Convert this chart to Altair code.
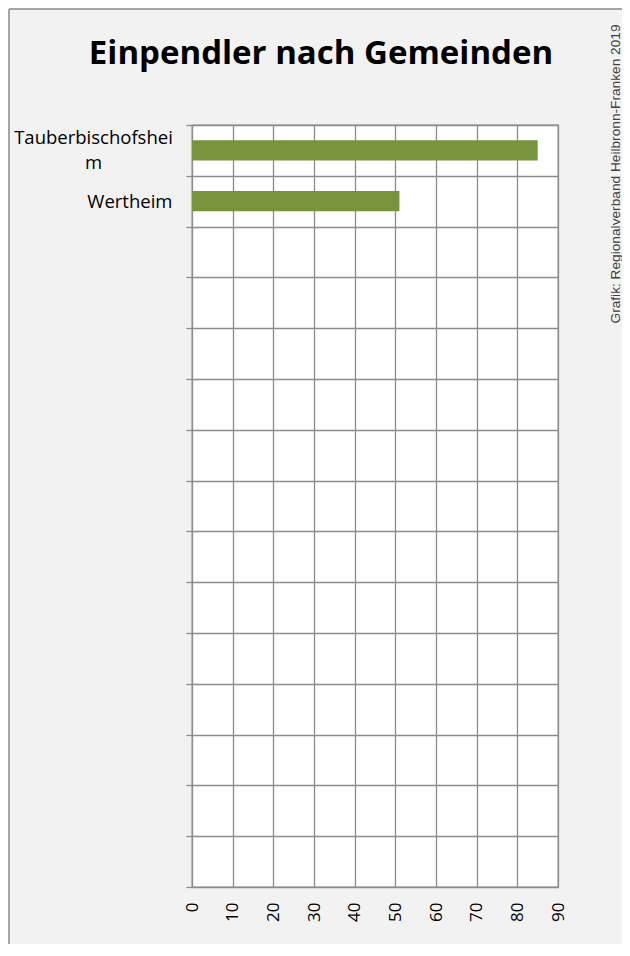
import altair as alt
import pandas as pd

# ---- data ----
categories = ["Tauberbischofsheim", "Wertheim"]
values = [85, 51]
empty_rows = [f"leer{i}" for i in range(1, 14)]
x_ticks = [0, 10, 20, 30, 40, 50, 60, 70, 80, 90]
title_text = "Einpendler nach Gemeinden"
source_text = "Grafik: Regionalverband Heilbronn-Franken 2019"

df = pd.DataFrame({"Gemeinde": categories, "Einpendler": values})
domain = categories + empty_rows

GRID = "#8c8c8c"
BAR = "#77933c"

label_expr = (
    "datum.value == 'Tauberbischofsheim' ? ['Tauberbischofshei', 'm'] : "
    "(datum.value == 'Wertheim' ? 'Wertheim' : '')"
)
is_tbb = "datum.value == 'Tauberbischofsheim'"

bars = alt.Chart(df).mark_bar(color=BAR, height={"band": 0.4}).encode(
    x=alt.X(
        "Einpendler:Q",
        scale=alt.Scale(domain=[0, 90], nice=False),
        axis=alt.Axis(
            values=x_ticks, title=None, ticks=False, labelAngle=270,
            labelPadding=15, labelFontSize=17, labelFont="Open Sans",
            labelColor="black", grid=True, gridColor=GRID, gridWidth=1.3,
            domain=False,
        ),
    ),
    y=alt.Y(
        "Gemeinde:N",
        sort=None,
        scale=alt.Scale(domain=domain, paddingInner=0, paddingOuter=0),
        axis=alt.Axis(
            title=None, tickBand="extent", labelExpr=label_expr,
            labelAlign={"condition": {"test": is_tbb, "value": "center"}, "value": "right"},
            labelPadding={"condition": {"test": is_tbb, "value": 93}, "value": 14},
            labelOffset={"condition": {"test": is_tbb, "value": -13}, "value": 0},
            labelFont="Open Sans", labelFontSize=18.5, labelColor="black",
            labelLineHeight=25, tickSize=6, tickColor=GRID, tickWidth=1.3,
            grid=True, gridColor=GRID, gridWidth=1.3, domain=False,
        ),
    ),
)

title = alt.Chart(pd.DataFrame({"t": [title_text]})).mark_text(
    font="Open Sans", fontSize=33, fontWeight="bold", color="black",
    align="center", baseline="alphabetic",
).encode(text="t:N", x=alt.value(129), y=alt.value(-61))

source = alt.Chart(pd.DataFrame({"t": [source_text]})).mark_text(
    angle=270, font="Liberation Sans", fontSize=13.7, color="#404040",
    align="center", baseline="middle",
).encode(text="t:N", x=alt.value(424), y=alt.value(49))

border_top = alt.Chart(pd.DataFrame({"a": [0]})).mark_rule(color=GRID, strokeWidth=1.5).encode(
    x=alt.value(-183), x2=alt.value(440), y=alt.value(-116)
)
border_left = alt.Chart(pd.DataFrame({"a": [0]})).mark_rule(color=GRID, strokeWidth=1.5).encode(
    x=alt.value(-183), y=alt.value(-116), y2=alt.value(830)
)

chart = alt.layer(bars, title, source, border_top, border_left).properties(
    width=366,
    height=762,
    padding={"left": 184, "top": 117, "right": 64, "bottom": 57},
    autosize="none",
    background="#f2f2f2",
).configure_view(fill="white", stroke=GRID, strokeWidth=1.3)

chart.save("out.html", embed_options={"renderer": "svg", "actions": False})
